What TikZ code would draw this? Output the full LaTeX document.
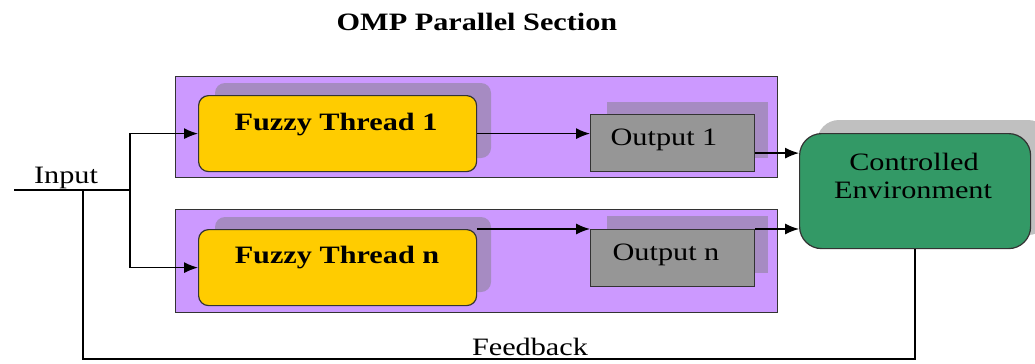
\documentclass[tikz,border=0pt]{standalone}
\usepackage{fontspec}
\setmainfont[FakeStretch=1.21]{Liberation Serif}
\usetikzlibrary{arrows.meta,calc}

\definecolor{lavender}{HTML}{CC99FF}
\definecolor{shadowpurple}{HTML}{A68BC2}
\definecolor{threadyellow}{HTML}{FFCC00}
\definecolor{outgray}{HTML}{969696}
\definecolor{envgreen}{HTML}{339966}
\definecolor{envshadow}{HTML}{C0C0C0}
\definecolor{edge}{HTML}{333333}

\tikzset{
  section/.style={draw=edge, line width=1.4bp, fill=lavender, rectangle,
    anchor=north west, inner sep=0pt},
  thread/.style={draw=edge, line width=1.2bp, fill=threadyellow, rectangle,
    rounded corners=10bp, anchor=north west, inner sep=0pt},
  outbox/.style={draw=edge, line width=1.2bp, fill=outgray, rectangle,
    anchor=north west, inner sep=0pt},
  envbox/.style={draw=edge, line width=1.2bp, fill=envgreen, rectangle,
    rounded corners=22bp, anchor=north west, inner sep=0pt},
  lbl/.style={anchor=base, inner sep=0pt, font=\fontsize{25bp}{30bp}\selectfont},
  blbl/.style={lbl, font=\fontsize{25bp}{30bp}\selectfont\bfseries},
  wire/.style={line width=1.3bp, draw=black},
  arr/.style={wire, -{Latex[length=14bp,width=11bp]}},
}

\begin{document}
\begin{tikzpicture}[x=1bp, y=-1bp]
\useasboundingbox (0,0) rectangle (1035,363);

% parallel sections
\node[section, minimum width=602bp, minimum height=101bp] (sec1) at (175,76) {};
\node[section, minimum width=602bp, minimum height=103bp] (secn) at (175,209) {};

% drop shadows
\fill[shadowpurple, rounded corners=10bp] (215,83) rectangle (491,158);
\fill[shadowpurple, rounded corners=10bp] (215,217) rectangle (491,292);
\fill[shadowpurple] (607,102) rectangle (768,158);
\fill[shadowpurple] (607,216) rectangle (768,273);
\fill[envshadow, rounded corners=22bp] (817,120) rectangle (1050,235);

% blocks
\node[thread, minimum width=278bp, minimum height=76bp] (ft1) at (198,95) {};
\node[thread, minimum width=278bp, minimum height=76bp] (ftn) at (198,229) {};
\node[outbox, minimum width=164bp, minimum height=57bp] (out1) at (590,114) {};
\node[outbox, minimum width=164bp, minimum height=57bp] (outn) at (590,229) {};
\node[envbox, minimum width=231bp, minimum height=115bp] (env) at (799,133) {};

% labels
\node[blbl] (title) at (477,30) {OMP Parallel Section};
\node[blbl] (ft1t) at (336,130) {Fuzzy Thread 1};
\node[blbl] (ftnt) at (337,263) {Fuzzy Thread n};
\node[lbl] (out1t) at (664,145) {Output 1};
\node[lbl] (outnt) at (666,260) {Output n};
\node[lbl] (envt1) at (914,170) {Controlled};
\node[lbl] (envt2) at (913,198) {Environment};
\node[lbl] (inputt) at (66,183) {Input};
\node[lbl] (fbt) at (530,355) {Feedback};

% input distribution
\coordinate (in) at (14,190);
\coordinate (split) at (130,190);
\coordinate (fb) at (83,359);
\draw[wire] (in) -- (split);
\draw[arr] (split) |- (ft1.west);
\draw[arr] (split) |- (ftn.west);

% thread outputs
\draw[arr] (ft1.east) -- (ft1.east -| out1.west);
\draw[arr] (ftn.north east) -- (ftn.north east -| outn.west);

% outputs into the environment
\draw[arr] ([yshift=-10bp]out1.east) -- ([yshift=-10bp]out1.east -| env.west);
\draw[arr] (outn.north east) -- (outn.north east -| env.west);

% feedback loop
\draw[wire] (env.south) |- (fb) -- (fb |- in);
\end{tikzpicture}
\end{document}
